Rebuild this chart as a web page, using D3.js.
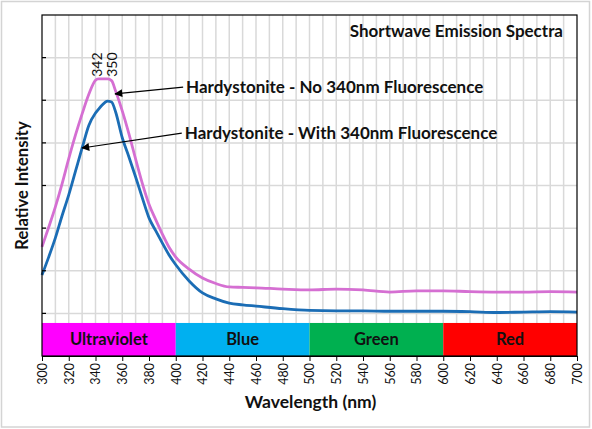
<!DOCTYPE html>
<html>
<head>
<meta charset="utf-8">
<script src="https://cdn.jsdelivr.net/npm/d3@7.9.0/dist/d3.min.js"></script>
<style>
  body { margin: 0; background: #fff; }
  svg text { font-family: Lato, "Liberation Sans", sans-serif; fill: #111; }
</style>
</head>
<body>
<svg id="chart" width="592" height="429"></svg>
<script>
// wavelengths (nm) shared by both spectra
const wavelengths = [300, 305, 310, 315, 320, 325, 330, 335, 340, 342, 345, 349, 352, 355, 360, 365, 370, 375, 380, 385, 390, 395, 400, 410, 420, 430, 440, 450, 460, 480, 500, 520, 540, 560, 580, 600, 620, 640, 660, 680, 700];

// Hardystonite - No 340nm Fluorescence (pink)
const noFluor = [2.56, 3.02, 3.50, 4.04, 4.63, 5.18, 5.68, 6.14, 6.47, 6.50, 6.50, 6.50, 6.46, 6.22, 5.75, 5.21, 4.62, 4.05, 3.56, 3.20, 2.86, 2.55, 2.32, 2.04, 1.83, 1.70, 1.62, 1.61, 1.60, 1.57, 1.55, 1.57, 1.55, 1.50, 1.53, 1.53, 1.51, 1.50, 1.50, 1.51, 1.50];

// Hardystonite - With 340nm Fluorescence (blue)
const withFluor = [1.90, 2.32, 2.77, 3.29, 3.78, 4.33, 4.88, 5.41, 5.70, 5.78, 5.89, 5.98, 5.96, 5.73, 5.12, 4.67, 4.20, 3.71, 3.24, 2.94, 2.65, 2.37, 2.14, 1.76, 1.48, 1.34, 1.24, 1.20, 1.17, 1.11, 1.07, 1.06, 1.06, 1.05, 1.05, 1.05, 1.04, 1.02, 1.03, 1.04, 1.03];

// colour bands along the bottom of the plot
const bandNames = ["Ultraviolet", "Blue", "Green", "Red"];
const bandStarts = [300, 400, 500, 600];
const bandEnds = [400, 500, 600, 700];
const bandColors = ["#ff00ff", "#00b0f0", "#00b050", "#ff0000"];

const peakLabels = ["342", "350"];
const xTicks = d3.range(300, 701, 20);

const width = 592, height = 429;
const margin = { top: 15, right: 15, bottom: 73, left: 42 };

const svg = d3.select("#chart");

// outer frame
svg.append("rect")
  .attr("x", 1.5).attr("y", 1.5)
  .attr("width", width - 4).attr("height", height - 3.5)
  .attr("fill", "#fff")
  .attr("stroke", "#d4d4d4")
  .attr("stroke-width", 1.5);

const x = d3.scaleLinear().domain([300, 700]).range([margin.left, width - margin.right]);
const y = d3.scaleLinear().domain([0, 8]).range([height - margin.bottom, margin.top]);
const bandTop = 0.775;

// gridlines
const grid = svg.append("g").attr("stroke", "#d9d9d9").attr("stroke-width", 1.5);
grid.selectAll("line.v")
  .data(d3.range(310, 700, 10))
  .enter().append("line")
  .attr("x1", d => x(d)).attr("x2", d => x(d))
  .attr("y1", y(8)).attr("y2", y(bandTop));
grid.selectAll("line.h")
  .data(d3.range(1, 8))
  .enter().append("line")
  .attr("x1", x(300)).attr("x2", x(700))
  .attr("y1", d => y(d)).attr("y2", d => y(d));

// colour bands
const bands = svg.append("g");
bandNames.forEach((name, i) => {
  bands.append("rect")
    .attr("x", x(bandStarts[i]))
    .attr("y", y(bandTop))
    .attr("width", x(bandEnds[i]) - x(bandStarts[i]))
    .attr("height", y(0) - y(bandTop))
    .attr("fill", bandColors[i]);
  bands.append("text")
    .attr("x", x((bandStarts[i] + bandEnds[i]) / 2))
    .attr("y", y(bandTop / 2))
    .attr("dy", "0.36em")
    .attr("text-anchor", "middle")
    .attr("font-size", 16.5)
    .attr("font-weight", "bold")
    .text(name);
});

// spectra
const line = d3.line()
  .x(d => x(d[0]))
  .y(d => y(d[1]))
  .curve(d3.curveMonotoneX);

svg.append("path")
  .datum(wavelengths.map((w, i) => [w, noFluor[i]]))
  .attr("d", line)
  .attr("fill", "none")
  .attr("stroke", "#d56fd2")
  .attr("stroke-width", 2.8);

svg.append("path")
  .datum(wavelengths.map((w, i) => [w, withFluor[i]]))
  .attr("d", line)
  .attr("fill", "none")
  .attr("stroke", "#1b6db5")
  .attr("stroke-width", 2.8);

// plot border
svg.append("rect")
  .attr("x", x(300)).attr("y", y(8))
  .attr("width", x(700) - x(300)).attr("height", y(0) - y(8))
  .attr("fill", "none")
  .attr("stroke", "#000")
  .attr("stroke-width", 1.2);

// y ticks (inside, no labels)
svg.append("g").selectAll("line")
  .data(d3.range(1, 8))
  .enter().append("line")
  .attr("x1", x(300)).attr("x2", x(300) + 4)
  .attr("y1", d => y(d)).attr("y2", d => y(d))
  .attr("stroke", "#000").attr("stroke-width", 1.2);

// x axis
const xAxis = svg.append("g")
  .attr("transform", `translate(0,${y(0)})`)
  .call(d3.axisBottom(x).tickValues(xTicks).tickSize(5).tickSizeOuter(0).tickFormat(d3.format("d")));
xAxis.select(".domain").attr("stroke", "#000").attr("stroke-width", 1.2);
xAxis.selectAll(".tick line").attr("stroke", "#000");
xAxis.selectAll(".tick text")
  .attr("font-family", "Lato, sans-serif")
  .attr("font-size", 12.5)
  .attr("fill", "#000")
  .attr("transform", "rotate(-90)")
  .attr("text-anchor", "end")
  .attr("x", -7)
  .attr("y", 0)
  .attr("dy", "0.35em");

// axis titles
svg.append("text")
  .attr("x", (x(300) + x(700)) / 2 + 1)
  .attr("y", 408)
  .attr("text-anchor", "middle")
  .attr("font-size", 17.5)
  .attr("font-weight", "bold")
  .text("Wavelength (nm)");

svg.append("text")
  .attr("transform", `translate(28,${y(4) + 0})rotate(-90)`)
  .attr("text-anchor", "middle")
  .attr("font-size", 16.6)
  .attr("font-weight", "bold")
  .text("Relative Intensity");

// title
svg.append("text")
  .attr("x", 563)
  .attr("y", 37)
  .attr("text-anchor", "end")
  .attr("font-size", 17)
  .attr("font-weight", "bold")
  .text("Shortwave Emission Spectra");

// peak labels
[[341, peakLabels[0]], [352.5, peakLabels[1]]].forEach(([w, t]) => {
  svg.append("text")
    .attr("transform", `translate(${x(w)},${y(6.55)})rotate(-90)`)
    .attr("dy", "0.36em")
    .attr("font-size", 14)
    .text(t);
});

// arrow annotations
svg.append("defs").append("marker")
  .attr("id", "arrow")
  .attr("viewBox", "0 0 10 10")
  .attr("refX", 9).attr("refY", 5)
  .attr("markerWidth", 9).attr("markerHeight", 8)
  .attr("markerUnits", "userSpaceOnUse")
  .attr("orient", "auto")
  .append("path")
  .attr("d", "M0,0L10,5L0,10z")
  .attr("fill", "#000");

const notes = [
  { text: "Hardystonite - No 340nm Fluorescence", from: [407, 6.31], to: [354.6, 6.15] },
  { text: "Hardystonite - With 340nm Fluorescence", from: [406, 5.23], to: [329.9, 4.88] }
];
notes.forEach(n => {
  svg.append("line")
    .attr("x1", x(n.from[0]) - 2).attr("y1", y(n.from[1]))
    .attr("x2", x(n.to[0])).attr("y2", y(n.to[1]))
    .attr("stroke", "#000").attr("stroke-width", 1.2)
    .attr("marker-end", "url(#arrow)");
  svg.append("text")
    .attr("x", x(n.from[0]) + 1)
    .attr("y", y(n.from[1]))
    .attr("dy", "0.36em")
    .attr("font-size", 17)
    .attr("font-weight", "bold")
    .text(n.text);
});
</script>
</body>
</html>
